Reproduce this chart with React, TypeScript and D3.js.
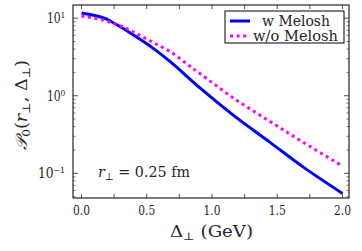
import React from "react";
import * as d3 from "d3";

const deltaBlue = [0, 0.17, 0.3, 0.42, 0.55, 0.68, 0.81, 0.91, 1.17, 1.45, 1.7, 2.0];
const valuesBlue = [11.7, 10.1, 7.7, 5.75, 4.08, 2.75, 1.77, 1.25, 0.55, 0.247, 0.12, 0.055];
const deltaMagenta = [0, 0.17, 0.3, 0.42, 0.55, 0.68, 0.81, 0.91, 1.17, 1.45, 1.7, 2.0];
const valuesMagenta = [10.7, 9.4, 7.96, 6.35, 4.86, 3.7, 2.55, 1.92, 0.92, 0.46, 0.25, 0.124];
const xTickLabels = ["0.0", "0.5", "1.0", "1.5", "2.0"];
const xTickValues = [0, 0.5, 1.0, 1.5, 2.0];
const xMinorTicks = [0.25, 0.75, 1.25, 1.75];
const yDecades = [-1, 0, 1];
const yTickLabels = ["10⁻¹", "10⁰", "10¹"];
const seriesNames = ["w Melosh", "w/o Melosh"];

const W = 362, H = 251;
const L = 73, R = 349, T = 5, B = 198;
const FONT = "'DejaVu Serif', serif";
const FG = "#262626";

export default function App() {
  const x = d3.scaleLinear().domain([-0.065, 2.05]).range([L, R]);
  const y = d3.scaleLog().domain([0.048, 14.8]).range([B, T]);
  const line = d3
    .line<[number, number]>()
    .x((d) => x(d[0]))
    .y((d) => y(d[1]))
    .curve(d3.curveCatmullRom.alpha(0.5));
  const blue = deltaBlue.map((d, i) => [d, valuesBlue[i]] as [number, number]);
  const mag = deltaMagenta.map((d, i) => [d, valuesMagenta[i]] as [number, number]);

  const minorY: number[] = [];
  for (let e = -2; e <= 1; e++) {
    for (let m = 2; m <= 9; m++) {
      const v = m * Math.pow(10, e);
      if (v > 0.048 && v < 14.8) minorY.push(v);
    }
  }

  return (
    <svg
      width={W}
      height={H}
      style={{ position: "absolute", left: 0, top: 0, background: "#fff" }}
      fontFamily={FONT}
    >
      <defs>
        <clipPath id="clip">
          <rect x={L} y={T} width={R - L} height={B - T} />
        </clipPath>
      </defs>
      <g clipPath="url(#clip)">
        <path d={line(blue) || ""} fill="none" stroke="#0000ff" strokeWidth={3} />
        <path
          d={line(mag) || ""}
          fill="none"
          stroke="#ff00ff"
          strokeWidth={3}
          strokeDasharray="3 3.6"
        />
      </g>
      {xTickValues.concat(xMinorTicks).map((v, i) => (
        <g key={"xt" + i}>
          <line x1={x(v)} x2={x(v)} y1={B} y2={B - 4} stroke={FG} strokeWidth={0.8} />
          <line x1={x(v)} x2={x(v)} y1={T} y2={T + 4} stroke={FG} strokeWidth={0.8} />
        </g>
      ))}
      {xTickValues.map((v, i) => (
        <text
          key={"xl" + i}
          x={x(v) - 8.5}
          y={215}
          fontSize={13}
          textLength={17}
          lengthAdjust="spacingAndGlyphs"
          fill={FG}
        >
          {xTickLabels[i]}
        </text>
      ))}
      {yDecades.map((e, i) => {
        const v = Math.pow(10, e);
        return (
          <g key={"yd" + e}>
            <line x1={L} x2={L + 5} y1={y(v)} y2={y(v)} stroke={FG} strokeWidth={0.8} />
            <line x1={R} x2={R - 5} y1={y(v)} y2={y(v)} stroke={FG} strokeWidth={0.8} />
            <text
              x={e === -1 ? 38 : 47}
              y={y(v) + 5}
              fontSize={14}
              textLength={e === -1 ? 27 : 18}
              lengthAdjust="spacingAndGlyphs"
              fill={FG}
            >
              {yTickLabels[i]}
            </text>
          </g>
        );
      })}
      {minorY.map((v, i) => (
        <g key={"ym" + i}>
          <line x1={L} x2={L + 2.5} y1={y(v)} y2={y(v)} stroke={FG} strokeWidth={0.6} />
          <line x1={R} x2={R - 2.5} y1={y(v)} y2={y(v)} stroke={FG} strokeWidth={0.6} />
        </g>
      ))}
      <rect x={L} y={T} width={R - L} height={B - T} fill="none" stroke={FG} strokeWidth={1.2} />
      <text x={170} y={237} fontSize={16} fill={FG} textLength={83} lengthAdjust="spacingAndGlyphs">
        Δ<tspan dy={3} fontSize={11}>⊥</tspan>
        <tspan dy={-3}> (GeV)</tspan>
      </text>
      <text
        transform="translate(27,150) rotate(-90)"
        fontSize={16}
        fill={FG}
        textLength={90}
        lengthAdjust="spacingAndGlyphs"
      >
        <tspan fontStyle="italic">𝒫</tspan>
        <tspan dy={3} fontSize={11}>0</tspan>
        <tspan dy={-3}>(</tspan>
        <tspan fontStyle="italic">r</tspan>
        <tspan dy={3} fontSize={11}>⊥</tspan>
        <tspan dy={-3}>, Δ</tspan>
        <tspan dy={3} fontSize={11}>⊥</tspan>
        <tspan dy={-3}>)</tspan>
      </text>
      <text x={98} y={177} fontSize={15} fill={FG} textLength={92} lengthAdjust="spacingAndGlyphs">
        <tspan fontStyle="italic">r</tspan>
        <tspan dy={3} fontSize={10}>⊥</tspan>
        <tspan dy={-3}> = 0.25 fm</tspan>
      </text>
      <rect x={225} y={11} width={119} height={32} fill="#fff" stroke="#000" strokeWidth={1} />
      <line x1={230} x2={250} y1={21} y2={21} stroke="#0000ff" strokeWidth={3} />
      <line
        x1={230}
        x2={250}
        y1={36}
        y2={36}
        stroke="#ff00ff"
        strokeWidth={3}
        strokeDasharray="3 3.6"
      />
      <text x={262} y={25.5} fontSize={14} fill={FG} textLength={68} lengthAdjust="spacingAndGlyphs">
        {seriesNames[0]}
      </text>
      <text x={253} y={40.5} fontSize={14} fill={FG} textLength={85} lengthAdjust="spacingAndGlyphs">
        {seriesNames[1]}
      </text>
    </svg>
  );
}
